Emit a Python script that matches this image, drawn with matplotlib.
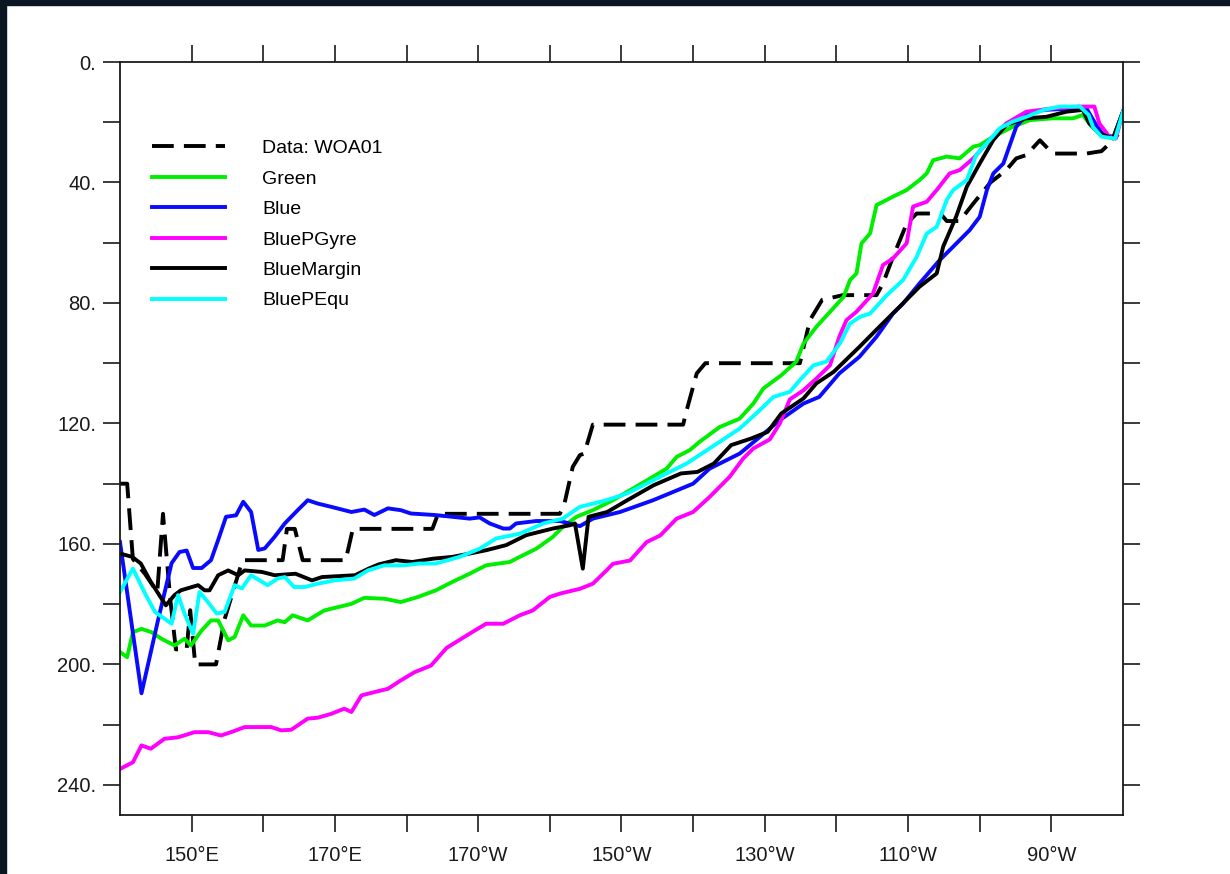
import matplotlib.pyplot as plt
from matplotlib.patches import Rectangle

plt.rcParams['font.family'] = ['Liberation Sans', 'DejaVu Sans']

# longitude in degrees east (140E .. 280E = 80W), depth in m
woa_lon = [140, 141, 141.8, 143.5, 145.2, 146, 147, 147.8, 149.3, 149.8, 150.5, 153.4, 154.6,
           157.1, 162.7, 163.3, 164.4, 165.5, 171.5, 172.5, 183.6, 184.4, 201.4, 202, 203.2,
           204.2, 204.8, 206, 218.6, 219.1, 220.5, 221.7, 234.9, 236.3, 238, 240.9, 245.6,
           246.5, 247.9, 249.8, 251.2, 254.5, 255.4, 257.2, 259.1, 261.5, 263.7, 265.1, 266.5,
           268.4, 270.2, 274.9, 277, 278.6, 279.3]
woa_dep = [140, 140, 165, 170, 176, 150, 178, 195, 195, 182, 200, 200, 185,
           165.4, 165.4, 155, 155, 165.4, 165.4, 155, 155, 150, 150, 147, 134.4,
           130.5, 130, 120.4, 120.4, 115.6, 103.4, 100, 100, 85.7, 79, 77.4, 77.4,
           73.5, 64.7, 53.7, 50.3, 50.3, 52.8, 52.8, 47, 40, 35.9, 32, 30.9,
           26, 30.4, 30.4, 29.6, 26, 24]

green_lon = [140, 141, 141.8, 143, 144.4, 145.8, 147.6, 149, 149.9, 151.4, 152.7, 153.7, 155.1,
             156, 157.2, 158.3, 160.2, 162, 163, 164.1, 166.2, 168.5, 172.3, 174.1, 176.9,
             179.2, 181.6, 184.1, 186.4, 188.8, 191.1, 194.4, 195.8, 198.1, 200.4, 201.8,
             203.7, 206, 208.8, 211.6, 214.4, 216.3, 217.7, 219.5, 220.9, 223.7, 226.5, 228.4,
             229.8, 232.3, 234.4, 235.4, 237.2, 241, 241.9, 242.8, 243.5, 244.7, 245.6, 247.9,
             249.8, 251.6, 252.6, 253.5, 255.4, 257.2, 259.1, 260, 261.9, 264.6, 267, 270.2,
             273, 274.4, 275.5, 277, 278.7, 280]
green_dep = [195.9, 197.6, 189.3, 188.2, 189.3, 191.5, 193.7, 191.5, 193.7, 188.7, 185.4, 185.4, 192,
             190.9, 183.7, 187.1, 187.1, 185.4, 186, 183.7, 185.4, 182.1, 179.9, 177.9, 178.2,
             179.3, 177.6, 175.4, 172.6, 169.9, 167.1, 166, 164.3, 161.6, 157.7, 154.4,
             151, 148.8, 145.5, 141.6, 137.7, 135, 131.1, 128.9, 126.1, 121.2, 118.4, 113.4,
             108.4, 104, 99.5, 93.5, 87.9, 78, 72.4, 70.2, 60.2, 56.9, 47.5, 44.7,
             42.5, 39.2, 37, 32.6, 31.4, 32, 28.1, 27.6, 24.8, 21.5, 19.3, 18.7,
             18.7, 17.6, 21, 24.5, 25, 16.5]

blue_lon = [140, 143, 145.3, 147.2, 148.3, 149.3, 150.2, 151.4, 152.7, 153.7, 154.8, 156.2, 157.2,
            158.3, 159.3, 160.2, 161.6, 163, 164.8, 166.2, 167.6, 169.5, 172.3, 174.1, 175.5,
            177.4, 179.2, 180.6, 183.9, 186.4, 188.8, 190.2, 191.6, 193.5, 194.4, 195.3, 198.1,
            201.4, 204.2, 206, 209.8, 214.4, 220, 222.3, 226.5, 229.3, 232.1, 235.4, 237.6,
            240.4, 243.2, 245.6, 247.9, 249.3, 251.6, 254.4, 256.3, 258.6, 260, 261, 261.9,
            263.3, 265.1, 266.5, 268.9, 273.5, 274.9, 276.4, 277.3, 278.7, 280]
blue_dep = [159.4, 209.6, 185.4, 166.4, 162.7, 162.2, 168, 168, 165.4, 158.7, 151, 150.5, 146,
            149.4, 162, 161.5, 157.6, 153.2, 148.8, 145.5, 146.6, 147.7, 149.4, 148.6, 150.4,
            148.2, 148.8, 149.9, 150.4, 151, 151.6, 151.2, 153.2, 154.9, 154.9, 153.2, 152.4,
            152.4, 154.1, 151.6, 149.4, 145.5, 140, 135, 130, 124.5, 118.9, 113.4, 111.2,
            103.4, 97.9, 91.2, 83.5, 80.2, 73.5, 65.8, 61.3, 55.8, 51.4, 42.5, 37,
            33.7, 21.5, 17.6, 15.9, 15.4, 15.4, 21.5, 24.3, 24.8, 16.5]

gyre_lon = [140, 141.8, 143, 144.3, 146.2, 148.1, 150.4, 152.3, 154.1, 155.5, 157.4, 161.1, 162.5,
            163.9, 166.2, 167.6, 169.5, 171.3, 172.3, 173.7, 175.5, 177.4, 179.2, 181.1, 183.4,
            185.6, 188.8, 191.1, 193.5, 195.8, 197.6, 200, 201.4, 204.2, 206, 207.9, 208.8,
            211.2, 213.5, 215.4, 217.7, 220, 222.3, 225.1, 227, 228.4, 230.7, 232.1, 233.5,
            235.4, 237.2, 239.1, 240.4, 241.4, 242.8, 245.1, 246.5, 247.9, 249.8, 250.7, 252.6,
            254, 255.8, 257.2, 259.1, 261.4, 263.7, 266.5, 270.2, 273.9, 276, 276.7, 278.1,
            279, 280]
gyre_dep = [234.7, 232.5, 226.9, 228, 224.7, 224.2, 222.5, 222.5, 223.6, 222.5, 220.8, 220.8, 221.9,
            221.7, 218, 217.7, 216.4, 214.7, 215.8, 210.3, 209.2, 208.1, 205.3, 202.6, 200.4,
            194.5, 189.8, 186.5, 186.5, 183.7, 182.1, 177.6, 176.5, 174.9, 173.2, 168.8, 166.6,
            165.5, 159.4, 157.2, 151.6, 149.4, 144.4, 137.7, 131.6, 128.3, 125.3, 120, 112,
            109, 105.1, 100.7, 91.2, 85.7, 82.9, 76.9, 67.4, 65.2, 60.2, 48, 46.4,
            42.5, 37, 35.9, 32, 25.9, 20.4, 16.5, 15.4, 14.8, 14.8, 20.4, 24.8,
            25.4, 16.5]

margin_lon = [140, 141.7, 142.9, 144.3, 146.4, 147.6, 148.5, 150.9, 151.8, 152.5, 153.7, 155.1,
              156.5, 157.4, 159.8, 161.6, 164.5, 166.8, 168.2, 172.8, 174.7, 176.1, 178.5, 180.8,
              183.7, 186.4, 188.8, 191.1, 193.9, 196.7, 200.4, 202.8, 203.5, 204.6, 205.4, 208,
              210.8, 214.5, 218.3, 220.6, 222.9, 225.3, 228.1, 230.4, 232.3, 235.4, 237.2, 239.6,
              243.2, 246, 248.8, 251.6, 254, 254.9, 256.7, 258.2, 260, 261.9, 263.7, 266.5,
              269.3, 272.1, 274.4, 275.3, 276.7, 278.6, 280]
margin_dep = [163.2, 164.3, 166.5, 172.6, 180.4, 177, 175.4, 173.7, 175.4, 175.4, 170.4, 168.8,
              170.4, 168.8, 169.3, 170.4, 169.9, 172.1, 171, 170.4, 168.2, 166.8, 165.4, 166,
              164.9, 164.3, 163.2, 162.1, 160.4, 157.1, 154.9, 153.8, 153.2, 168.2, 151, 149.4,
              145.5, 140.5, 136.6, 136.1, 133.3, 127.2, 125, 122.8, 116.7, 111.7, 106.7, 102.9,
              94.6, 87.9, 81.3, 74.6, 70.2, 61.3, 51.4, 41.4, 33.7, 25.9, 20.9, 18.7,
              18.2, 16.5, 15.9, 20.4, 23.7, 25.4, 16.5]

equ_lon = [140, 141.8, 143.5, 144.9, 147.2, 148.1, 149, 150.2, 151.1, 152.1, 153.5, 154.6, 156,
           157, 158.3, 160.6, 162, 163, 164.3, 165.8, 167.6, 170, 172.7, 174.6, 176.9, 179.7,
           181.8, 184.1, 187.4, 190.2, 192.5, 195.8, 199.1, 201.8, 204.2, 207.9, 210.7, 213.5,
           216.3, 219.1, 221.9, 223.7, 226.5, 229.3, 231.2, 233.5, 234.9, 236.8, 238.6, 240.5,
           241.9, 243.3, 244.7, 247, 249.3, 251.2, 252.6, 254, 255.4, 256.3, 258.2, 259.5,
           261.4, 262.8, 264.6, 266.5, 268.9, 271.2, 274, 275.2, 275.8, 277, 278.9, 280]
equ_dep = [176, 168.2, 176.5, 182.6, 186.5, 177, 183.1, 189.8, 176, 178.8, 183.1, 182.6, 173.7,
           174.8, 170.4, 173.7, 171.5, 171, 174.3, 174.3, 173.2, 172.1, 171.5, 168.8, 167.1, 167.1,
           166.5, 166.5, 164.3, 161.6, 158.2, 156.6, 153.2, 151.6, 147.7, 145.5, 143.3, 140,
           136.6, 133.3, 128.9, 126.1, 121.7, 115.6, 111.2, 109.5, 105.6, 100.7, 99.5, 93.4,
           86.8, 84.6, 83.5, 77.5, 72.4, 64.7, 57, 54.7, 45.8, 42.5, 39.2, 30.9,
           25.9, 22, 19.8, 18.2, 15.9, 14.8, 14.8, 17.6, 21.5, 24.8, 25.4, 16.5]

x_ticks = list(range(150, 271, 10))
x_labels = ['150°E', '', '170°E', '', '170°W', '', '150°W', '', '130°W', '', '110°W', '', '90°W']
y_ticks = list(range(0, 241, 20))
y_labels = ['0.', '', '40.', '', '80.', '', '120.', '', '160.', '', '200.', '', '240.']

fig = plt.figure(figsize=(12.3, 8.74), dpi=100)
fig.patch.set_facecolor('white')
# thin dark border of the screenshot
fig.patches.append(Rectangle((0, 1 - 5 / 874), 1, 5 / 874, transform=fig.transFigure,
                             color='#0a1622', zorder=0))
fig.patches.append(Rectangle((0, 0), 6 / 1230, 1, transform=fig.transFigure,
                             color='#0a1622', zorder=0))

ax = fig.add_axes([120 / 1230, 59 / 874, 1003 / 1230, 753 / 874])

lw = 2.8
ax.plot(woa_lon, woa_dep, color='black', lw=lw, dashes=(5.6, 2.6), label='Data: WOA01')
ax.plot(green_lon, green_dep, color='#00ee00', lw=lw, label='Green')
ax.plot(blue_lon, blue_dep, color='#0a0aff', lw=lw, label='Blue')
ax.plot(gyre_lon, gyre_dep, color='#ff00ff', lw=lw, label='BluePGyre')
ax.plot(margin_lon, margin_dep, color='black', lw=lw, label='BlueMargin')
ax.plot(equ_lon, equ_dep, color='#00ffff', lw=lw, label='BluePEqu')

ax.set_xlim(140, 280)
ax.set_ylim(250, 0)
ax.set_xticks(x_ticks)
ax.set_xticklabels(x_labels)
ax.set_yticks(y_ticks)
ax.set_yticklabels(y_labels)
ax.tick_params(direction='out', length=12, width=1.2, pad=5, labelsize=14.5,
               top=True, right=True, colors='#1a1a1a')
ax.tick_params(axis='x', pad=10)
for s in ax.spines.values():
    s.set_linewidth(1.3)
    s.set_color('#1a1a1a')

ax.legend(loc='upper left', bbox_to_anchor=(0.032, 0.897), frameon=False,
          fontsize=14, handlelength=3.75, handletextpad=1.9, labelspacing=0.66,
          borderpad=0, borderaxespad=0)

plt.savefig('out.png', dpi=100)
